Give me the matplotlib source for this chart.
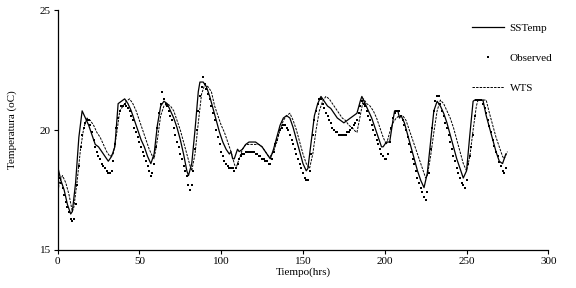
import matplotlib
matplotlib.use("Agg")
import matplotlib.pyplot as plt
from matplotlib.lines import Line2D

plt.rcParams['font.family'] = ['Liberation Serif', 'DejaVu Serif']

observed = [
    18.2, 18.0, 17.8, 17.6, 17.3, 17.0, 16.8, 16.6, 16.3, 16.2,
    16.3, 16.9, 17.7, 18.5, 19.3, 19.8, 20.1, 20.3, 20.4, 20.4,
    20.2, 19.9, 19.6, 19.3, 19.1, 18.9, 18.8, 18.6, 18.5, 18.4,
    18.3, 18.2, 18.2, 18.3, 18.7, 19.4, 20.1, 20.5, 20.8, 21.0,
    21.0, 21.1, 21.0, 20.9, 20.8, 20.6, 20.4, 20.1, 19.9, 19.7,
    19.5, 19.3, 19.1, 18.9, 18.7, 18.5, 18.3, 18.1, 18.2, 18.6,
    19.3, 20.1, 20.7, 21.1, 21.6, 21.3, 21.1, 21.0, 20.8, 20.6,
    20.4, 20.1, 19.8, 19.5, 19.3, 19.0, 18.8, 18.5, 18.3, 18.1,
    17.7, 17.5, 17.7, 18.3, 19.2, 20.0, 20.8, 21.4, 21.8, 22.2,
    21.9, 21.7, 21.5, 21.3, 21.0, 20.7, 20.4, 20.0, 19.7, 19.4,
    19.1, 18.9, 18.7, 18.6, 18.5, 18.4, 18.4, 18.4, 18.3, 18.4,
    18.6, 18.8, 18.9, 19.0, 19.0, 19.1, 19.1, 19.1, 19.1, 19.1,
    19.1, 19.0, 19.0, 18.9, 18.9, 18.8, 18.8, 18.7, 18.7, 18.6,
    18.6, 18.8, 19.1, 19.4, 19.6, 19.8, 20.0, 20.1, 20.2, 20.2,
    20.1, 20.0, 19.8, 19.6, 19.4, 19.2, 19.0, 18.8, 18.6, 18.4,
    18.2, 18.0, 17.9, 17.9, 18.3, 19.0, 19.8, 20.4, 20.8, 21.1,
    21.3, 21.3, 21.1, 20.9, 20.7, 20.6, 20.4, 20.3, 20.1, 20.0,
    19.9, 19.9, 19.8, 19.8, 19.8, 19.8, 19.8, 19.9, 19.9, 20.0,
    20.1, 20.2, 20.3, 20.4, 20.7, 21.0, 21.2, 21.1, 21.0, 20.8,
    20.6, 20.4, 20.2, 20.0, 19.8, 19.6, 19.4, 19.2, 19.0, 18.9,
    18.8, 18.8, 19.0, 19.5, 20.1, 20.5, 20.7, 20.8, 20.8, 20.8,
    20.6, 20.4, 20.2, 20.0, 19.7, 19.4, 19.1, 18.8, 18.6, 18.3,
    18.0, 17.8, 17.6, 17.4, 17.2, 17.1, 17.4, 18.2, 19.2, 20.1,
    20.8, 21.2, 21.4, 21.4, 21.1, 20.8, 20.6, 20.3, 20.1, 19.8,
    19.5, 19.2, 18.9, 18.7, 18.4, 18.2, 18.0, 17.8, 17.7, 17.6,
    17.9, 18.6, 18.9, 19.3, 19.8, 20.6, 21.25, 21.25, 21.25, 21.25,
    21.1, 20.9, 20.7, 20.4, 20.15, 19.9, 19.6, 19.35, 19.1, 18.9,
    18.65, 18.5, 18.3, 18.2, 18.4,
]
observed_hours = list(range(len(observed)))

sstemp_hours = [
    0, 2, 4, 6, 8, 9, 11, 13, 15, 17, 19, 21, 23, 25, 27, 29, 31, 33, 35, 37,
    39, 41, 43, 45, 47, 49, 51, 53, 55, 57, 59, 61, 63, 65, 67, 69, 71, 73, 75, 77,
    79, 80, 82, 84, 86, 87, 89, 91, 93, 95, 97, 99, 101, 103, 105, 106, 107, 108, 110, 111,
    113, 115, 117, 119, 121, 123, 125, 127, 129, 130, 132, 134, 136, 138, 140, 142, 144, 146, 148, 150,
    152, 153, 155, 157, 159, 161, 163, 165, 167, 169, 171, 173, 175, 177, 179, 181, 183, 185, 186, 188,
    190, 192, 194, 196, 198, 199, 201, 203, 205, 206, 208, 209, 210, 212, 214, 216, 218, 220, 222, 224,
    226, 228, 230, 232, 234, 236, 238, 240, 242, 244, 246, 248, 250, 252, 254, 255, 260, 262, 264, 266,
    268, 270, 272, 274,
]
sstemp = [
    18.5, 17.9, 17.5, 16.9, 16.5, 16.6, 17.8, 19.7, 20.8, 20.5, 20.2, 19.8, 19.4, 19.3, 19.1, 18.9, 18.7, 18.9, 19.3, 21.1,
    21.2, 21.3, 21.1, 20.8, 20.4, 20.0, 19.6, 19.3, 18.9, 18.6, 19.0, 20.2, 21.0, 21.2, 21.1, 20.8, 20.5, 20.1, 19.6, 19.0,
    18.3, 18.1, 18.6, 20.0, 21.6, 22.0, 22.0, 21.8, 21.4, 20.9, 20.4, 19.9, 19.5, 19.2, 19.0, 19.1, 18.8, 18.8, 19.2, 19.1,
    19.2, 19.4, 19.5, 19.5, 19.5, 19.4, 19.3, 19.1, 18.9, 18.8, 19.2, 19.7, 20.2, 20.5, 20.6, 20.5, 20.1, 19.6, 19.1, 18.6,
    18.3, 18.4, 19.5, 20.6, 21.1, 21.4, 21.2, 21.0, 20.9, 20.7, 20.5, 20.4, 20.3, 20.4, 20.5, 20.6, 20.7, 21.2, 21.4, 21.1,
    20.8, 20.5, 20.1, 19.7, 19.3, 19.3, 19.5, 19.5, 20.4, 20.8, 20.8, 20.5, 20.6, 20.3, 19.8, 19.3, 18.8, 18.3, 17.9, 17.6,
    18.2, 19.5, 20.8, 21.2, 21.0, 20.7, 20.3, 19.8, 19.3, 18.8, 18.4, 18.0, 18.3, 19.8, 21.2, 21.25, 21.25, 20.6, 20.1, 19.6,
    19.1, 18.7, 18.6, 19.0,
]

wts_hours = [
    0, 1, 3, 5, 7, 9, 10, 12, 14, 16, 18, 20, 22, 24, 26, 28, 30, 32, 34, 36,
    38, 40, 42, 44, 46, 48, 50, 52, 54, 56, 58, 59, 61, 63, 65, 67, 69, 71, 73, 75,
    77, 79, 81, 82, 84, 86, 88, 90, 92, 94, 96, 98, 100, 102, 104, 106, 108, 109, 111, 113,
    115, 117, 119, 121, 123, 125, 127, 129, 130, 132, 134, 136, 138, 140, 142, 144, 146, 148, 150, 152,
    154, 156, 158, 160, 162, 164, 166, 168, 170, 172, 174, 176, 178, 180, 182, 183, 185, 187, 189, 191,
    193, 195, 197, 199, 201, 203, 205, 207, 209, 211, 213, 215, 217, 219, 221, 223, 225, 226, 228, 230,
    232, 234, 236, 238, 240, 242, 244, 246, 248, 250, 252, 254, 256, 257, 262, 264, 266, 268, 270, 272,
    273, 275,
]
wts = [
    17.3, 17.8, 18.1, 17.8, 17.3, 16.6, 16.8, 17.9, 19.2, 20.1, 20.5, 20.4, 20.2, 19.9, 19.7, 19.4, 19.1, 18.9, 19.0, 19.8,
    20.8, 21.0, 21.2, 21.3, 21.1, 20.8, 20.4, 20.0, 19.6, 19.2, 18.9, 18.8, 19.6, 20.6, 21.0, 21.1, 21.0, 20.8, 20.4, 20.0,
    19.5, 19.0, 18.5, 18.3, 19.0, 20.3, 21.5, 21.9, 21.8, 21.6, 21.0, 20.6, 20.2, 19.9, 19.5, 19.1, 18.6, 18.4, 18.8, 19.2,
    19.4, 19.4, 19.4, 19.4, 19.4, 19.3, 19.1, 18.9, 18.9, 19.1, 19.5, 20.0, 20.4, 20.6, 20.7, 20.4, 20.0, 19.5, 19.0, 18.6,
    18.4, 19.0, 20.0, 20.8, 21.2, 21.4, 21.3, 21.1, 20.9, 20.7, 20.5, 20.4, 20.2, 20.1, 19.95, 19.9, 20.6, 21.3, 21.1, 21.0,
    20.8, 20.5, 20.1, 19.7, 19.4, 19.9, 20.3, 20.5, 20.6, 20.6, 20.4, 20.0, 19.6, 19.2, 18.8, 18.4, 18.0, 18.1, 18.9, 19.9,
    20.8, 21.25, 21.1, 20.8, 20.5, 20.1, 19.6, 19.1, 18.6, 18.3, 18.9, 20.0, 21.0, 21.25, 21.25, 20.7, 20.2, 19.7, 19.3, 18.9,
    18.8, 19.1,
]

x_ticks = [0, 50, 100, 150, 200, 250, 300]
y_ticks = [15, 20, 25]

fig = plt.figure(figsize=(5.76, 2.88), dpi=100)
ax = fig.add_axes([0.1, 0.132, 0.852, 0.833])

ax.plot(sstemp_hours, sstemp, color='black', lw=0.9, ls='-', label='SSTemp')
ax.plot(observed_hours, observed, color='black', ls='none', marker='s', markersize=1.7,
        markeredgewidth=0, label='Observed')
ax.plot(wts_hours, wts, color='black', lw=0.7, ls=(0, (2.5, 1.2)), label='WTS')

ax.set_xlim(0, 300)
ax.set_ylim(15, 25)
ax.set_xticks(x_ticks)
ax.set_yticks(y_ticks)
for s in ['top', 'right']:
    ax.spines[s].set_visible(False)
for s in ['left', 'bottom']:
    ax.spines[s].set_linewidth(0.9)
ax.tick_params(direction='out', length=3, width=0.8, labelsize=8, pad=2)

ax.set_xlabel('Tiempo(hrs)', fontsize=8, labelpad=1)
ax.set_ylabel('Temperatura (oC)', fontsize=8, labelpad=16)

handles = [
    Line2D([], [], color='black', lw=0.9, ls='-'),
    Line2D([], [], color='black', ls='none', marker='s', markersize=1.7, markeredgewidth=0),
    Line2D([], [], color='black', lw=0.7, ls=(0, (2.5, 1.2))),
]
ax.legend(handles, ['SSTemp', 'Observed', 'WTS'], loc='upper left',
          bbox_to_anchor=(0.835, 0.964), frameon=False, fontsize=8,
          handlelength=2.9, handletextpad=0.5, labelspacing=1.82, numpoints=1,
          borderaxespad=0)

fig.savefig('out.png', dpi=100)
